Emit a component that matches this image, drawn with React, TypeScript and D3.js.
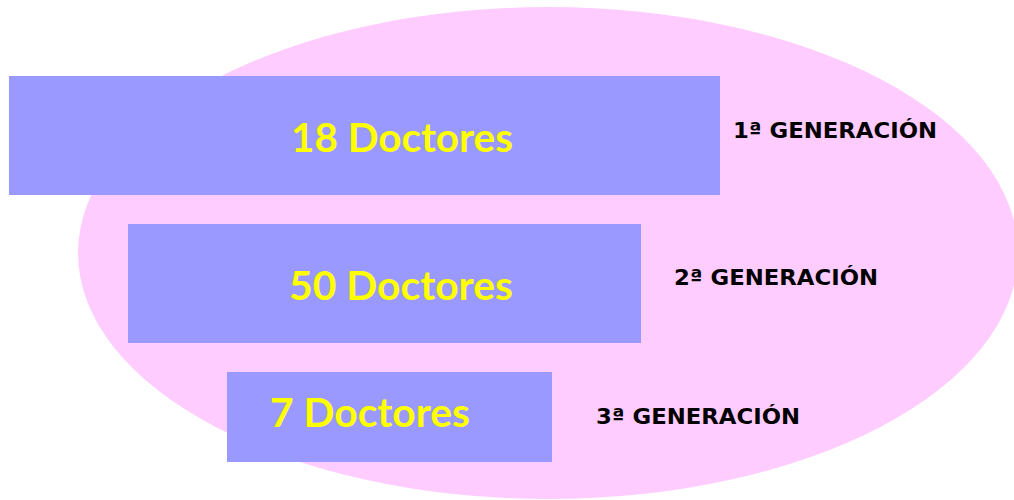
import * as d3 from "d3";

// generations and number of doctors in each one
const generations = ["1ª GENERACIÓN", "2ª GENERACIÓN", "3ª GENERACIÓN"];
const doctors = [18, 50, 7];
const unitLabel = "Doctores";

const width = 1014;
const height = 500;

// layout of the boxes (the diagram is not to scale)
const boxLeft = [9, 128, 227];
const boxRight = [720, 641, 552];
const boxHeight = [119, 119, 90];
const textLeft = [291, 289, 270];
const textWidth = [222, 224, 200];
const textBase = [152, 300, 427];
const labelLeft = [733, 674, 596];
const labelBase = [138, 285, 424];

const App = () => {
  const y = d3
    .scaleBand<string>()
    .domain(generations)
    .range([76, 76 + 148 * generations.length])
    .paddingInner(0)
    .paddingOuter(0);

  return (
    <svg
      width={width}
      height={height}
      style={{ position: "absolute", left: 0, top: 0 }}
    >
      <rect width={width} height={height} fill="#ffffff" />
      <ellipse cx={548} cy={253} rx={470} ry={246} fill="#ffccff" />
      {generations.map((g, i) => {
        const top = y(g) ?? 0;
        return (
          <g key={g}>
            <rect
              x={boxLeft[i]}
              y={top}
              width={boxRight[i] - boxLeft[i]}
              height={boxHeight[i]}
              fill="#9999ff"
            />
            <text
              x={textLeft[i]}
              y={textBase[i]}
              fill="#ffff00"
              fontFamily="Lato, 'DejaVu Sans', sans-serif"
              fontWeight="bold"
              fontSize={40}
              textLength={textWidth[i]}
              lengthAdjust="spacingAndGlyphs"
            >
              {`${doctors[i]} ${unitLabel}`}
            </text>
            <text
              x={labelLeft[i]}
              y={labelBase[i]}
              fill="#000000"
              fontFamily="'DejaVu Sans', Verdana, sans-serif"
              fontWeight="bold"
              fontSize={21}
              textLength={204}
              lengthAdjust="spacingAndGlyphs"
            >
              {g}
            </text>
          </g>
        );
      })}
    </svg>
  );
};

export default App;
